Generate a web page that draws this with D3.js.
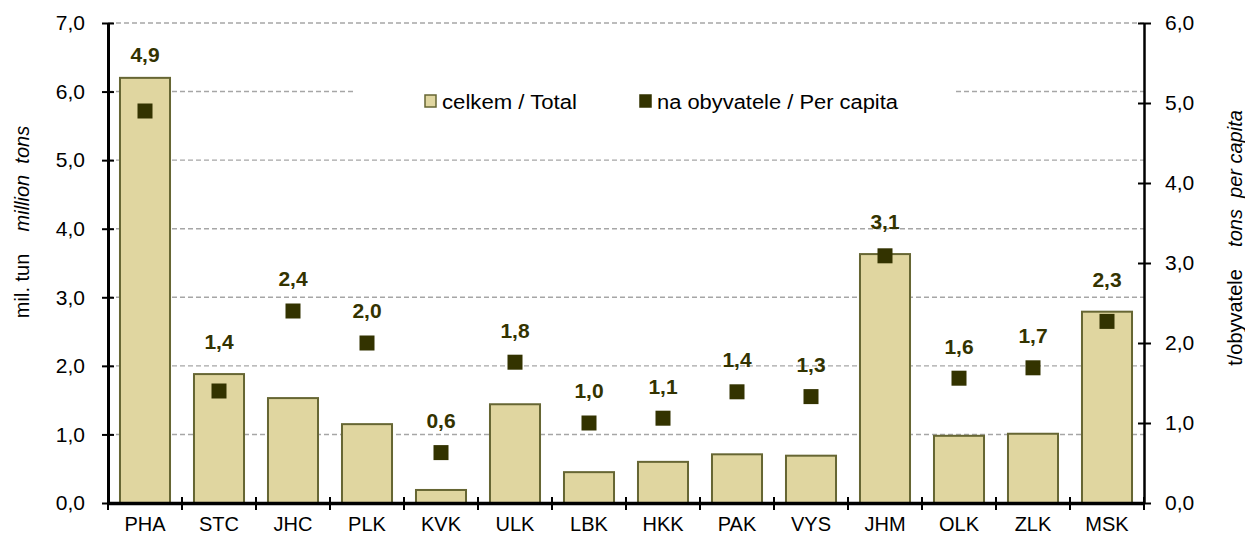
<!DOCTYPE html>
<html>
<head>
<meta charset="utf-8">
<script src="https://cdn.jsdelivr.net/npm/d3@7"></script>
<style>
  body { margin: 0; background: #ffffff; }
  svg { display: block; font-family: "Liberation Sans", Arial, sans-serif; }
</style>
</head>
<body>
<svg id="chart" width="1245" height="537"></svg>
<script>
// Regions of the Czech Republic
const regions = ["PHA", "STC", "JHC", "PLK", "KVK", "ULK", "LBK", "HKK", "PAK", "VYS", "JHM", "OLK", "ZLK", "MSK"];
// celkem / Total (mil. tun)
const totalValues = [6.2, 1.88, 1.53, 1.15, 0.19, 1.44, 0.45, 0.6, 0.71, 0.69, 3.63, 0.98, 1.01, 2.79];
// na obyvatele / Per capita (t/obyvatele)
const perCapitaValues = [4.9, 1.4, 2.4, 2.0, 0.63, 1.76, 1.0, 1.06, 1.39, 1.33, 3.09, 1.56, 1.69, 2.27];
const leftTicks = [0, 1, 2, 3, 4, 5, 6, 7];
const rightTicks = [0, 1, 2, 3, 4, 5, 6];

// Colours
const barFill = "#e0d6a0";
const barStroke = "#666633";
const markerFill = "#333300";
const gridColour = "#a6a6a6";
const font = "Liberation Sans, Arial, sans-serif";

const svg = d3.select("#chart");
const margin = {left: 108, right: 1144, top: 23, bottom: 503};

// Czech number formatting (decimal comma)
const cz = d3.formatLocale({decimal: ",", thousands: " ", grouping: [3], currency: ["", " Kč"]});
const fmt = cz.format(".1f");

// Scales
const x = d3.scaleBand()
  .domain(regions)
  .range([margin.left, margin.right])
  .paddingInner(0.324)
  .paddingOuter(0.162);
const yLeft = d3.scaleLinear().domain([0, 7]).range([margin.bottom, margin.top]);
const yRight = d3.scaleLinear().domain([0, 6]).range([margin.bottom, margin.top]);

// Gridlines
svg.append("g")
  .selectAll("line")
  .data(leftTicks.filter(d => d > 0))
  .join("line")
    .attr("x1", margin.left)
    .attr("x2", margin.right)
    .attr("y1", d => yLeft(d))
    .attr("y2", d => yLeft(d))
    .attr("stroke", gridColour)
    .attr("stroke-width", 1.4)
    .attr("stroke-dasharray", "5,3");

// Legend background (hides part of the gridline)
const legend = svg.append("g");
legend.append("rect")
  .attr("x", 355).attr("y", 80)
  .attr("width", 598).attr("height", 44)
  .attr("fill", "#ffffff");

// Bars
svg.append("g")
  .selectAll("rect")
  .data(regions)
  .join("rect")
    .attr("x", d => x(d))
    .attr("y", (d, i) => yLeft(totalValues[i]))
    .attr("width", x.bandwidth())
    .attr("height", (d, i) => yLeft(0) - yLeft(totalValues[i]))
    .attr("fill", barFill)
    .attr("stroke", barStroke)
    .attr("stroke-width", 2);

// Per capita markers
const ms = 15;
svg.append("g")
  .selectAll("rect")
  .data(regions)
  .join("rect")
    .attr("x", d => x(d) + x.bandwidth() / 2 - ms / 2)
    .attr("y", (d, i) => yRight(perCapitaValues[i]) - ms / 2)
    .attr("width", ms)
    .attr("height", ms)
    .attr("fill", markerFill);

// Data labels above markers (lifted above bar tops where needed)
svg.append("g")
  .selectAll("text")
  .data(regions)
  .join("text")
    .attr("x", d => x(d) + x.bandwidth() / 2)
    .attr("y", (d, i) => {
      let top = Math.min(yRight(perCapitaValues[i]), yLeft(totalValues[i]));
      return Math.max(top - 32, 55);
    })
    .attr("dy", "0.35em")
    .attr("text-anchor", "middle")
    .attr("font-size", 21)
    .attr("font-weight", "bold")
    .attr("fill", markerFill)
    .text((d, i) => fmt(perCapitaValues[i]));

// Left axis
const leftAxis = d3.axisLeft(yLeft).tickValues(leftTicks).tickFormat(fmt).tickSizeInner(6).tickSizeOuter(0).tickPadding(17);
const gL = svg.append("g").attr("transform", `translate(${margin.left},0)`).call(leftAxis);
gL.select(".domain").attr("stroke", "#000").attr("stroke-width", 3);
gL.selectAll(".tick line").attr("stroke", "#000").attr("stroke-width", 2).attr("x2", -6).attr("x1", 6);
gL.selectAll(".tick text").attr("font-size", 21).attr("fill", "#000").attr("font-family", font);

// Right axis
const rightAxis = d3.axisRight(yRight).tickValues(rightTicks).tickFormat(fmt).tickSizeInner(6).tickSizeOuter(0).tickPadding(15);
const gR = svg.append("g").attr("transform", `translate(${margin.right},0)`).call(rightAxis);
gR.select(".domain").attr("stroke", "#000").attr("stroke-width", 2.5);
gR.selectAll(".tick line").attr("stroke", "#000").attr("stroke-width", 2).attr("x1", -6).attr("x2", 7);
gR.selectAll(".tick text").attr("font-size", 21).attr("fill", "#000").attr("font-family", font);

// Bottom axis
const bottomAxis = d3.axisBottom(x).tickSize(0).tickPadding(14);
const gB = svg.append("g").attr("transform", `translate(0,${margin.bottom})`).call(bottomAxis);
gB.select(".domain").attr("stroke", "#000").attr("stroke-width", 3.5);
gB.selectAll(".tick text").attr("font-size", 20).attr("fill", "#000").attr("font-family", font);
// Category separator ticks
gB.append("g")
  .selectAll("line")
  .data(d3.range(regions.length + 1))
  .join("line")
    .attr("x1", i => margin.left + i * x.step())
    .attr("x2", i => margin.left + i * x.step())
    .attr("y1", -6)
    .attr("y2", 7)
    .attr("stroke", "#000")
    .attr("stroke-width", 2);

// Legend
const legendItems = [
  {label: "celkem / Total", fill: barFill, stroke: barStroke, x: 425, len: 135},
  {label: "na obyvatele / Per capita", fill: markerFill, stroke: markerFill, x: 640, len: 241},
];
legendItems.forEach(item => {
  legend.append("rect")
    .attr("x", item.x).attr("y", 95)
    .attr("width", 11).attr("height", 12)
    .attr("fill", item.fill)
    .attr("stroke", item.stroke)
    .attr("stroke-width", 1.5);
  legend.append("text")
    .attr("x", item.x + 17).attr("y", 102)
    .attr("dy", "0.35em")
    .attr("font-size", 20)
    .attr("textLength", item.len)
    .attr("lengthAdjust", "spacingAndGlyphs")
    .attr("fill", "#000")
    .text(item.label);
});

// Axis titles
const leftTitle = svg.append("text")
  .attr("transform", "translate(29,222) rotate(-90)")
  .attr("text-anchor", "middle")
  .attr("font-size", 20)
  .attr("fill", "#000");
leftTitle.append("tspan").text("mil. tun\u00a0\u00a0\u00a0\u00a0");
leftTitle.append("tspan").attr("font-style", "italic").text("million\u00a0\u00a0tons");

const rightTitle = svg.append("text")
  .attr("transform", "translate(1242,238) rotate(-90)")
  .attr("text-anchor", "middle")
  .attr("font-size", 20)
  .attr("fill", "#000");
rightTitle.append("tspan").text("t/obyvatele\u00a0\u00a0\u00a0\u00a0");
rightTitle.append("tspan").attr("font-style", "italic").text("tons\u00a0\u00a0per capita");
</script>
</body>
</html>
